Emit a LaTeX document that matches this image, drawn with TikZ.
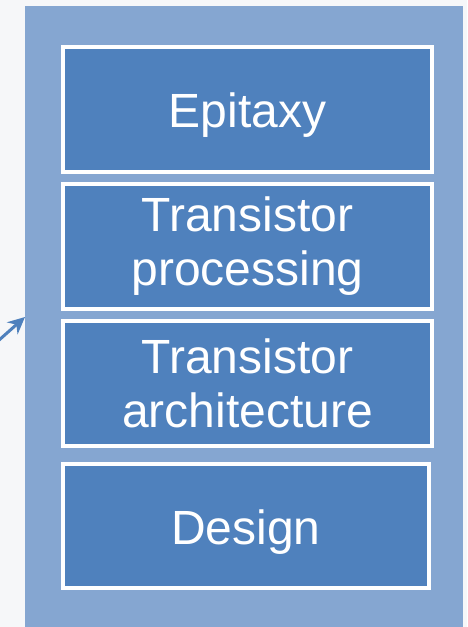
\documentclass[tikz,border=0pt]{standalone}
\usepackage{fontspec}
\setmainfont{Liberation Sans}
\usepackage{tikz}
\usetikzlibrary{arrows.meta,positioning}

\definecolor{pagegray}{HTML}{F6F7F9}
\definecolor{panelblue}{HTML}{85A6D1}
\definecolor{boxblue}{HTML}{4F81BD}

\tikzset{
  layer/.style={rectangle,draw=white,line width=4pt,fill=boxblue,
    text=white,align=center,inner sep=0pt,
    minimum width=369pt,minimum height=125pt,
    font=\fontsize{48}{54}\selectfont},
  oneline/.style={text height=36pt,text depth=0pt},
}

\begin{document}
\begin{tikzpicture}[x=1pt,y=1pt,node distance=8pt]
  \fill[pagegray] (0,0) rectangle (467,-627);
  \useasboundingbox (0,0) rectangle (467,-627);
  \node [rectangle,fill=panelblue,inner sep=0pt,outer sep=0pt,anchor=north west,
    minimum width=438pt,minimum height=621pt] (panel) at (25,-6) {};

  % process stack, top to bottom
  \node [layer,oneline] (epi) at (247.5,-109.5) {Epitaxy};
  \node [layer,below=of epi] (proc) {Transistor\\processing};
  \node [layer,below=of proc] (arch) {Transistor\\architecture};
  \node [layer,oneline,below=14pt of arch.south west,anchor=north west,
    minimum width=366pt,minimum height=124pt] (design) {Design};

  \coordinate (from) at (-2,-341);
  \coordinate (tip) at (panel.west |- 0,-317);
  \draw [boxblue,line width=3pt,-{Stealth[length=17pt,width=16pt]}] (from) -- (tip);
\end{tikzpicture}
\end{document}
